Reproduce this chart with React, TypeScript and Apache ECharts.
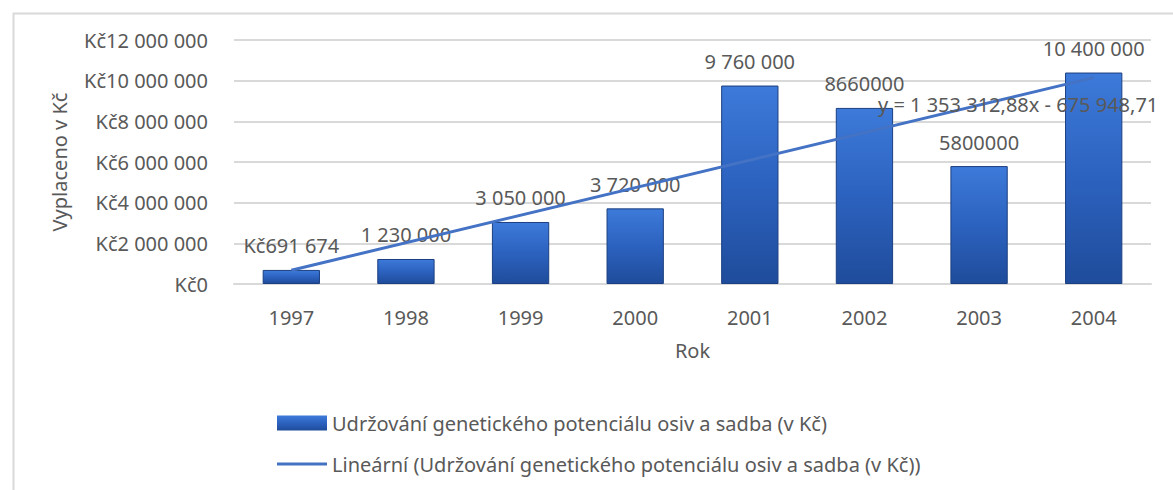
import React, { useEffect, useRef } from "react";
import * as echarts from "echarts";

const years = ["1997", "1998", "1999", "2000", "2001", "2002", "2003", "2004"];
const paid = [691674, 1230000, 3050000, 3720000, 9760000, 8660000, 5800000, 10400000];
const paidLabels = ["Kč691 674", "1 230 000", "3 050 000", "3 720 000", "9 760 000", "8660000", "5800000", "10 400 000"];
// trend line values read at the first and last year (linear fit drawn in the chart)
const trendValues = [677364, null, null, null, null, null, null, 10150554];
const yTicks = [0, 2000000, 4000000, 6000000, 8000000, 10000000, 12000000];
const equationText = "y = 1 353 312,88x - 675 948,71";
const barName = "Udržování genetického potenciálu osiv a sadba (v Kč)";
const trendName = "Lineární (Udržování genetického potenciálu osiv a sadba (v Kč))";

const FONT = "Noto Sans";
const GREY = "#595959";

function fmtKc(v: number): string {
  const s = Math.round(v).toString().replace(/\B(?=(\d{3})+(?!\d))/g, " ");
  return "Kč" + s;
}

export default function App() {
  const ref = useRef<HTMLDivElement>(null);
  useEffect(() => {
    if (!ref.current) return;
    const chart = echarts.init(ref.current, null, { renderer: "svg" });
    const barGradient = new echarts.graphic.LinearGradient(0, 0, 0, 1, [
      { offset: 0, color: "#3d7ad9" },
      { offset: 0.5, color: "#2c62bf" },
      { offset: 1, color: "#1f4c9b" },
    ]);
    chart.setOption({
      animation: false,
      backgroundColor: "#ffffff",
      textStyle: { fontFamily: FONT },
      grid: { left: 234, right: 22, top: 40, bottom: 206, containLabel: false },
      legend: {
        orient: "vertical",
        left: 272,
        top: 408,
        itemWidth: 50,
        itemHeight: 15,
        itemGap: 21,
        itemStyle: { borderWidth: 0 },
        textStyle: { fontSize: 20, color: GREY, fontFamily: FONT },
        data: [
          { name: barName, icon: "rect" },
          { name: trendName, icon: "path://M0,0H50V3H0Z" },
        ],
      },
      graphic: [
        {
          type: "rect",
          left: 11,
          top: 11,
          shape: { x: 0, y: 0, width: 1250, height: 560 },
          style: { fill: "none", stroke: "#d9d9d9", lineWidth: 2 },
          silent: true,
          z: -10,
        },
        {
          type: "text",
          x: 878,
          y: 104,
          z: 50,
          style: {
            text: equationText,
            fontSize: 20,
            fontFamily: FONT,
            fill: GREY,
            verticalAlign: "middle",
            align: "left",
          },
        },
      ],
      xAxis: {
        type: "category",
        data: years,
        name: "Rok",
        nameLocation: "middle",
        nameGap: 56,
        nameTextStyle: { fontSize: 20, color: GREY, fontFamily: FONT },
        axisTick: { show: false },
        axisLine: { lineStyle: { color: "#d9d9d9", width: 2 } },
        axisLabel: { fontSize: 20, color: GREY, margin: 23, fontFamily: FONT },
      },
      yAxis: {
        type: "value",
        min: 0,
        max: 12000000,
        interval: 2000000,
        name: "Vyplaceno v Kč",
        nameLocation: "middle",
        nameGap: 165,
        nameTextStyle: { fontSize: 20, color: GREY, fontFamily: FONT },
        axisLine: { show: false },
        axisTick: { show: false },
        splitLine: { lineStyle: { color: "#d9d9d9", width: 2 } },
        axisLabel: {
          fontSize: 20,
          color: GREY,
          margin: 26,
          fontFamily: FONT,
          formatter: (v: number) => (yTicks.includes(v) ? fmtKc(v) : ""),
        },
      },
      series: [
        {
          name: barName,
          type: "bar",
          data: paid,
          barWidth: "50%",
          itemStyle: {
            color: barGradient,
            borderColor: "#1b3f80",
            borderWidth: 1,
          },
          label: {
            show: true,
            position: "top",
            distance: 14,
            fontSize: 20,
            color: GREY,
            fontFamily: FONT,
            formatter: (p: any) => paidLabels[p.dataIndex],
          },
        },
        {
          name: trendName,
          type: "line",
          data: trendValues,
          connectNulls: true,
          symbol: "none",
          showSymbol: false,
          lineStyle: { color: "#4472c4", width: 3 },
          itemStyle: { color: "#4472c4" },
          z: 5,
        },
      ],
    });
    return () => chart.dispose();
  }, []);
  return (
    <div
      ref={ref}
      style={{ position: "fixed", left: 0, top: 0, width: 1173, height: 490 }}
    />
  );
}
